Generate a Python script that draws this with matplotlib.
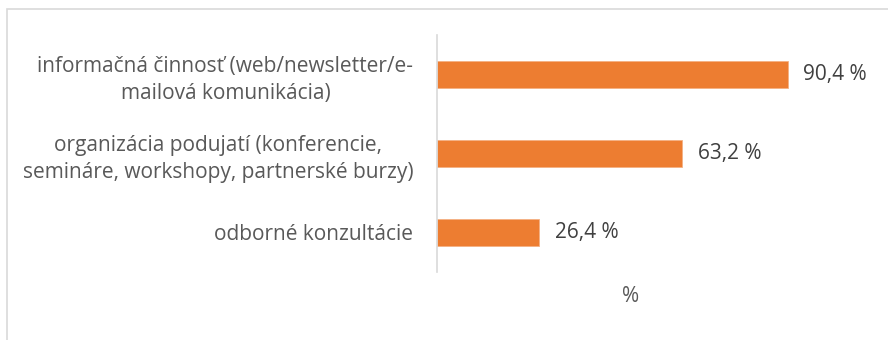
import matplotlib.pyplot as plt
from matplotlib.patches import Rectangle

# --- Data ---
categories = [
    "informačná činnosť (web/newsletter/e-\nmailová komunikácia)",
    "organizácia podujatí (konferencie,\nsemináre, workshopy, partnerské burzy)",
    "odborné konzultácie",
]
values = [90.4, 63.2, 26.4]
value_labels = ["90,4 %", "63,2 %", "26,4 %"]
x_label = "%"

# --- Style ---
plt.rcParams['font.family'] = ['Open Sans', 'DejaVu Sans']
bar_color = "#ED7D31"
label_color = "#595959"
value_color = "#404040"
fs = 15

fig = plt.figure(figsize=(8.88, 3.4), dpi=100)
ax = fig.add_axes([437 / 888, 68 / 340, 388 / 888, 237 / 340])

y = range(len(categories))
ax.barh(y, values, height=0.35, color=bar_color, edgecolor="#F4B183", linewidth=0.6)
ax.set_xlim(0, 100)
ax.set_ylim(len(categories) - 0.5, -0.5)

for yi, v, txt in zip(y, values, value_labels):
    ax.text(v + 4, yi, txt, va="center", ha="left", fontsize=fs, color=value_color)

ax.set_yticks(list(y))
ax.set_yticklabels(categories, fontsize=fs, color=label_color, multialignment="center",
                   linespacing=1.35)
ax.tick_params(axis="y", length=0, pad=17)
ax.set_xticks([])
ax.set_xlabel(x_label, fontsize=fs, color=label_color, labelpad=10)

for side in ["top", "right", "bottom"]:
    ax.spines[side].set_visible(False)
ax.spines["left"].set_color("#D9D9D9")
ax.spines["left"].set_linewidth(1.2)

# chart area frame
fig.patches.append(Rectangle((7 / 888, -0.1), 1.0, 1.0 - 9 / 340 + 0.1, transform=fig.transFigure,
                             fill=False, edgecolor="#D9D9D9", linewidth=1.2))

fig.savefig("out.png", dpi=100)
